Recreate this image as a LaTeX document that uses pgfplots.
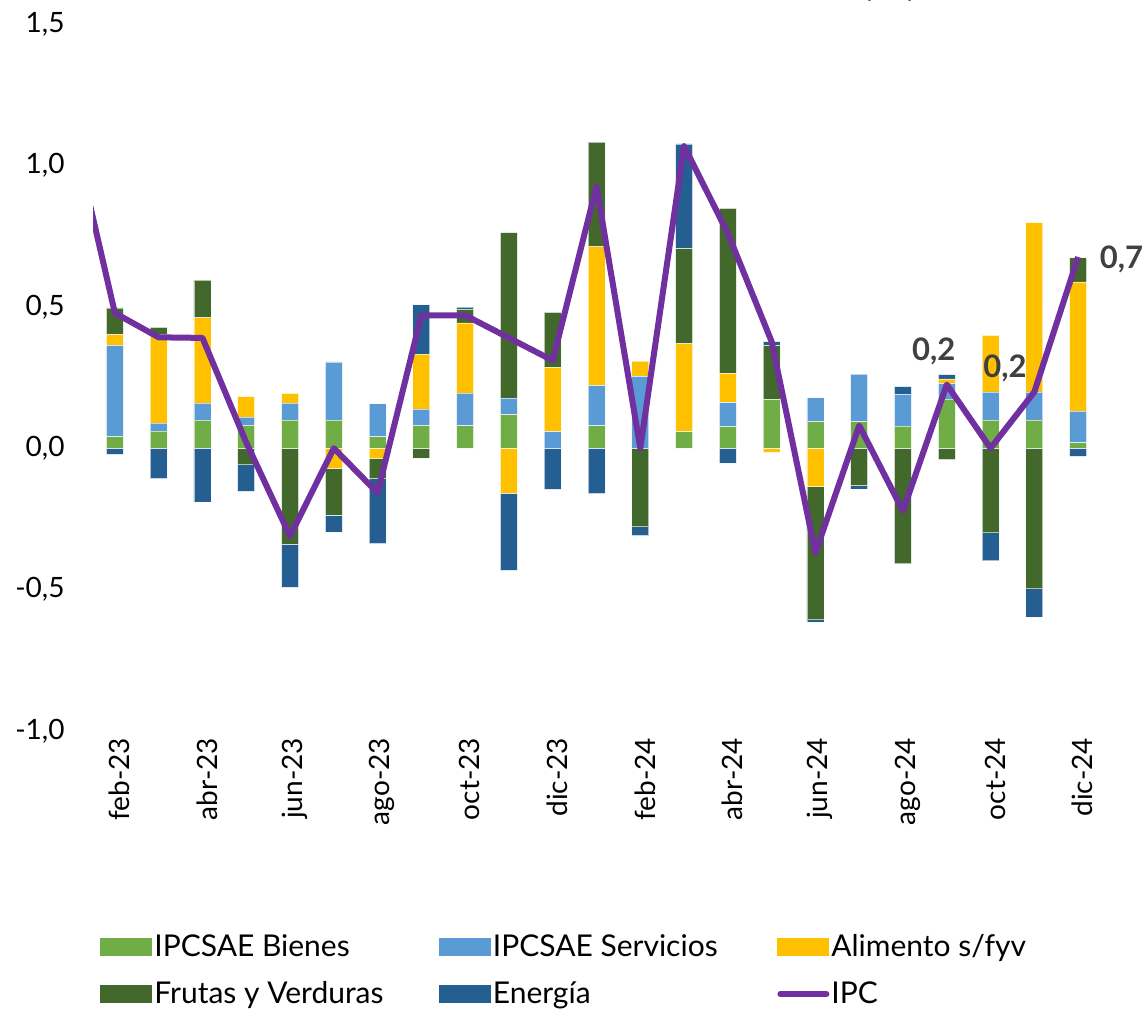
\documentclass[border=0pt]{standalone}
\usepackage{fontspec}
\setmainfont{Lato}
\usepackage{pgfplots}
\pgfplotsset{compat=1.18}
\usepackage{pgfplotstable}

\definecolor{cbie}{HTML}{70AD47}
\definecolor{cser}{HTML}{5B9BD5}
\definecolor{cali}{HTML}{FFC000}
\definecolor{cfyv}{HTML}{43682B}
\definecolor{cene}{HTML}{255E91}
\definecolor{cipc}{HTML}{7030A0}
\definecolor{clab}{HTML}{404040}
\definecolor{ctit}{HTML}{1F3864}

% contributions (pp) by month, feb-23 = 0 ... dic-24 = 22
\pgfplotstableread{
x  bie   ser   ali    fyv    ene
0  0.040 0.324 0.038  0.094  -0.022
1  0.061 0.028 0.312  0.026  -0.108
2  0.099 0.060 0.302  0.133  -0.190
3  0.081 0.029 0.072  -0.059 -0.094
4  0.100 0.059 0.035  -0.340 -0.152
5  0.099 0.206 -0.071 -0.165 -0.061
6  0.040 0.117 -0.036 -0.072 -0.229
7  0.080 0.058 0.195  -0.035 0.174
8  0.079 0.116 0.248  0.048  0.008
9  0.118 0.059 -0.159 0.585  -0.273
10 0.000 0.059 0.227  0.194  -0.146
11 0.079 0.142 0.491  0.370  -0.161
12 0.000 0.254 0.054  -0.278 -0.031
13 0.059 0.000 0.310  0.337  0.370
14 0.076 0.085 0.104  0.583  -0.053
15 0.171 0.000 -0.015 0.192  0.014
16 0.094 0.084 -0.136 -0.471 -0.008
17 0.094 0.168 0.000  -0.132 -0.012
18 0.078 0.112 0.000  -0.409 0.028
19 0.174 0.055 0.016  -0.040 0.015
20 0.100 0.099 0.200  -0.299 -0.099
21 0.100 0.099 0.599  -0.497 -0.100
22 0.019 0.112 0.457  0.085  -0.029
}\contrib

\pgfplotstableread{
x  ipc
-1 1.15
0  0.478
1  0.392
2  0.390
3  0.020
4  -0.311
5  0.000
6  -0.158
7  0.470
8  0.470
9  0.390
10 0.310
11 0.926
12 0.000
13 1.068
14 0.760
15 0.377
16 -0.370
17 0.080
18 -0.222
19 0.225
20 0.000
21 0.199
22 0.676
}\ipcdata

\pgfplotsset{
  base/.style={
    scale only axis, width=503.5pt, height=353.5pt,
    xmin=-0.5, xmax=22.5, ymin=-1, ymax=1.5,
  },
  sw/.style={legend image code/.code={\path[##1,draw=none] (0pt,-4.5pt) rectangle (26pt,4.5pt);}},
  lineleg/.style={legend image code/.code={\draw[##1] (1.5pt,0pt) -- (24.5pt,0pt);}},
  barst/.style={fill=#1, draw=white, draw opacity=0.6, line width=0.4pt, sw},
}
\newcommand{\legtxt}[1]{\makebox[141.25pt][l]{\rule[-4pt]{0pt}{15pt}#1}}

\begin{document}
\begin{tikzpicture}
\begin{axis}[base, name=ax,
  ybar stacked, bar width=8.5pt,
  axis line style={draw=none}, tick style={draw=none},
  ytick={-1,-0.5,0,0.5,1,1.5},
  yticklabels={{-1,0},{-0,5},{0,0},{0,5},{1,0},{1,5}},
  xtick={0,2,...,22},
  xticklabels={feb-23,abr-23,jun-23,ago-23,oct-23,dic-23,feb-24,abr-24,jun-24,ago-24,oct-24,dic-24},
  ticklabel style={font=\fontsize{14}{16}\selectfont},
  yticklabel style={anchor=east, xshift=-10.7pt},
  xticklabel style={rotate=90, anchor=east, yshift=-2.3pt},
  legend columns=3,
  legend style={draw=none, fill=none, at={(axis description cs:0,0)}, anchor=north west,
    xshift=3.5pt, yshift=-100.5pt, inner sep=0pt, row sep=9pt,
    font=\fontsize{15}{18}\selectfont,
    nodes={inner sep=1pt},
    /tikz/every even column/.append style={column sep=0pt}},
  legend cell align=left,
]
% positive parts
\addplot[barst=cbie] table[x=x, y expr={max(\thisrow{bie},0)}] \contrib; \addlegendentry{\legtxt{IPCSAE Bienes}}
\addplot[barst=cser] table[x=x, y expr={max(\thisrow{ser},0)}] \contrib; \addlegendentry{\legtxt{IPCSAE Servicios}}
\addplot[barst=cali] table[x=x, y expr={max(\thisrow{ali},0)}] \contrib; \addlegendentry{\legtxt{Alimento s/fyv}}
\addplot[barst=cfyv] table[x=x, y expr={max(\thisrow{fyv},0)}] \contrib; \addlegendentry{\legtxt{Frutas y Verduras}}
\addplot[barst=cene] table[x=x, y expr={max(\thisrow{ene},0)}] \contrib; \addlegendentry{\legtxt{Energía}}
\addlegendimage{cipc, line width=3pt, line cap=round, lineleg}
\addlegendentry{\legtxt{IPC}}
% negative parts (stacked separately below zero)
\addplot[barst=cbie, forget plot] table[x=x, y expr={min(\thisrow{bie},0)}] \contrib;
\addplot[barst=cser, forget plot] table[x=x, y expr={min(\thisrow{ser},0)}] \contrib;
\addplot[barst=cali, forget plot] table[x=x, y expr={min(\thisrow{ali},0)}] \contrib;
\addplot[barst=cfyv, forget plot] table[x=x, y expr={min(\thisrow{fyv},0)}] \contrib;
\addplot[barst=cene, forget plot] table[x=x, y expr={min(\thisrow{ene},0)}] \contrib;
\end{axis}
\begin{axis}[base, hide axis]
\addplot[cipc, line width=3pt, line join=round, mark=none] table[x=x, y=ipc] \ipcdata;
\coordinate (l1) at (axis cs:18.70,0.343);
\coordinate (l2) at (axis cs:20.33,0.281);
\coordinate (l3) at (axis cs:22.99,0.667);
\end{axis}
\node[font=\fontsize{15.5}{18}\selectfont\bfseries, text=clab] at (l1) {0,2};
\node[font=\fontsize{15.5}{18}\selectfont\bfseries, text=clab] at (l2) {0,2};
\node[font=\fontsize{15.5}{18}\selectfont\bfseries, text=clab] at (l3) {0,7};
\node[font=\fontsize{20}{24}\selectfont\bfseries, text=ctit, anchor=base] at ([shift={(398.5pt,367.5pt)}]ax.south west) {(\%)};
\pgfresetboundingbox
\useasboundingbox ([shift={(-46.5pt,-142.5pt)}]ax.south west) rectangle ([shift={(526pt,365.5pt)}]ax.south west);
\end{tikzpicture}
\end{document}
